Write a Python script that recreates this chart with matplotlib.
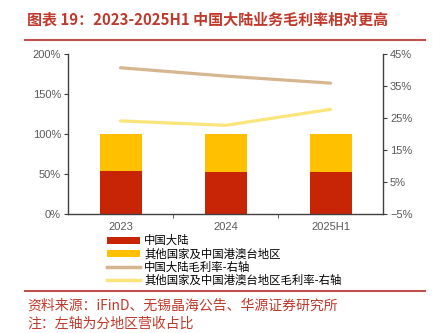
import matplotlib
matplotlib.use("Agg")
import matplotlib.pyplot as plt
from matplotlib.patches import Patch
from matplotlib.lines import Line2D
from matplotlib.ticker import FuncFormatter, FixedLocator
import numpy as np

plt.rcParams['font.family'] = ['Liberation Sans', 'Noto Sans CJK SC', 'DejaVu Sans']

categories = ["2023", "2024", "2025H1"]
mainland_share = [54, 52, 53]
other_share = [46, 48, 47]
mainland_margin = [40.7, 38.1, 35.9]
other_margin = [24.1, 22.7, 27.7]
left_ticks = [0, 50, 100, 150, 200]
right_ticks = [-5, 5, 15, 25, 35, 45]

title = "图表 19：2023-2025H1 中国大陆业务毛利率相对更高"
legend_labels = ["中国大陆", "其他国家及中国港澳台地区", "中国大陆毛利率-右轴", "其他国家及中国港澳台地区毛利率-右轴"]
source = "资料来源：iFinD、无锡晶海公告、华源证券研究所"
note = "注：左轴为分地区营收占比"

c_red = "#C82506"
c_orange = "#FFC000"
c_brown = "#D6B68E"
c_yellow = "#FAE57A"
c_title = "#C0392B"
c_text = "#595959"
c_spine = "#404040"

W, H = 433, 333
fig = plt.figure(figsize=(W/100, H/100), dpi=100)
ax = fig.add_axes([68/W, 1-214/H, (383-68)/W, (214-54)/H])
ax2 = ax.twinx()

x = np.arange(len(categories))
bw = 0.4
ax.bar(x, mainland_share, bw, color=c_red, zorder=2)
ax.bar(x, other_share, bw, bottom=mainland_share, color=c_orange, zorder=2)
ax.set_xlim(-0.5, 2.5)
ax.set_ylim(0, 200)
ax.yaxis.set_major_locator(FixedLocator(left_ticks))
ax.yaxis.set_major_formatter(FuncFormatter(lambda v, p: f"{v:.0f}%"))

ax2.plot(x, mainland_margin, color=c_brown, lw=2.3, solid_capstyle='round', zorder=3)
ax2.plot(x, other_margin, color=c_yellow, lw=2.3, solid_capstyle='round', zorder=3)
ax2.set_ylim(-5, 45)
ax2.yaxis.set_major_locator(FixedLocator(right_ticks))
ax2.yaxis.set_major_formatter(FuncFormatter(lambda v, p: f"{v:.0f}%".replace("-", "\u2212")))

ax.set_xticks(x)
ax.set_xticklabels(categories)
ax.set_xticks([0.5, 1.5], minor=True)
ax.tick_params(axis='x', which='major', length=0, pad=6, labelsize=8, labelcolor=c_text)
ax.tick_params(axis='x', which='minor', length=3, direction='out', color=c_spine)
ax.tick_params(axis='y', length=3, direction='out', labelsize=8, labelcolor=c_text, color=c_spine, pad=2)
ax2.tick_params(axis='y', length=3, direction='out', labelsize=8, labelcolor=c_text, color=c_spine, pad=2)

for a in (ax, ax2):
    a.spines['top'].set_visible(False)
    for s in ('left', 'right', 'bottom'):
        a.spines[s].set_color(c_spine)
        a.spines[s].set_linewidth(1.0)
ax.spines['right'].set_visible(False)
ax2.spines['left'].set_visible(False)
ax2.spines['bottom'].set_visible(False)

handles = [
    Patch(facecolor=c_red),
    Patch(facecolor=c_orange),
    Line2D([0], [0], color=c_brown, lw=2.5),
    Line2D([0], [0], color=c_yellow, lw=2.5),
]
fig.legend(handles, legend_labels, loc='upper left', bbox_to_anchor=(107/W, 1-235/H),
           frameon=False, handlelength=2.9, handleheight=0.55,
           handletextpad=0.35, labelspacing=0.17, borderpad=0, borderaxespad=0,
           prop={'family': ['Noto Sans CJK SC', 'DejaVu Sans'], 'size': 8.2})

fig.text(27/W, 1-20/H, title, color=c_title, fontsize=10.8, fontweight='bold',
         va='center', ha='left', family=['Noto Sans CJK SC', 'DejaVu Sans'])
fig.add_artist(Line2D([25/W, 425/W], [1-40/H, 1-40/H], color="#C0504D", lw=1.5))
fig.add_artist(Line2D([25/W, 425/W], [1-291/H, 1-291/H], color="#C0504D", lw=1.5))
fig.text(27/W, 1-306/H, source, color=c_title, fontsize=10, va='center', ha='left',
         family=['Noto Sans CJK SC', 'DejaVu Sans'])
fig.text(27/W, 1-324/H, note, color=c_title, fontsize=10, va='center', ha='left',
         family=['Noto Sans CJK SC', 'DejaVu Sans'])

fig.savefig("out.png", dpi=100)
